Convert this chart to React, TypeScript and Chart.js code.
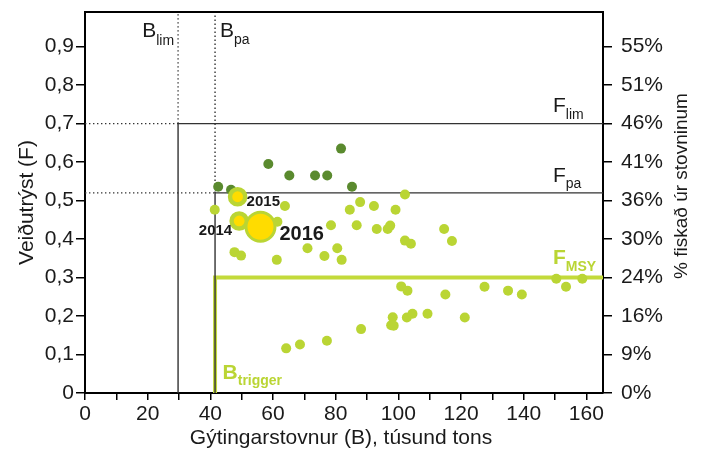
import React, { useEffect, useRef } from 'react';
import { Chart, registerables } from 'chart.js';

Chart.register(...registerables);

const FONT = '"Liberation Sans", Arial, Helvetica, sans-serif';

// Spawning stock biomass (B, thousand tonnes) and fishing mortality (F)
const darkB = [42.5, 46.6, 58.5, 65.2, 73.4, 77.3, 81.7, 85.2];
const darkF = [0.536, 0.528, 0.595, 0.565, 0.565, 0.565, 0.635, 0.536];

const lightB = [
  41.4, 63.8, 61.4, 78.5, 84.5, 87.8, 92.2, 99.1, 86.7, 93.1, 96.6, 97.4,
  47.7, 49.8, 61.2, 71.0, 76.4, 80.5, 81.9, 102.1, 102.1, 104.0, 114.6, 117.1,
  150.4, 153.5, 158.7, 100.9, 102.9, 115.0, 127.5, 135.0, 139.4,
  98.2, 97.7, 98.5, 102.7, 104.5, 109.3, 121.2, 64.2, 68.6, 77.2, 88.1,
];
const lightF = [
  0.476, 0.486, 0.445, 0.436, 0.476, 0.496, 0.486, 0.476, 0.436, 0.426, 0.426, 0.435,
  0.366, 0.357, 0.346, 0.376, 0.356, 0.376, 0.346, 0.516, 0.396, 0.388, 0.426, 0.395,
  0.297, 0.276, 0.297, 0.277, 0.266, 0.256, 0.276, 0.266, 0.256,
  0.197, 0.176, 0.175, 0.196, 0.206, 0.206, 0.196, 0.116, 0.126, 0.136, 0.166,
];

const yearLabels = ['2014', '2015', '2016'];
const yearB = [49.2, 48.7, 56.0];
const yearF = [0.447, 0.51, 0.432];

// Reference points
const Blim = 29.7;
const Bpa = 41.5;
const Btrigger = 41.5;
const Flim = 0.7;
const Fpa = 0.52;
const Fmsy = 0.3;

const xMin = 0;
const xMax = 165.3;
const yMin = 0;
const yMax = 0.99;

const xTickValues = [0, 10, 20, 30, 40, 50, 60, 70, 80, 90, 100, 110, 120, 130, 140, 150, 160];
const xTickLabels = ['0', '', '20', '', '40', '', '60', '', '80', '', '100', '', '120', '', '140', '', '160'];
const yTickValues = [0, 0.1, 0.2, 0.3, 0.4, 0.5, 0.6, 0.7, 0.8, 0.9];
const yTickLabels = ['0', '0,1', '0,2', '0,3', '0,4', '0,5', '0,6', '0,7', '0,8', '0,9'];
const pctLabels = ['0%', '9%', '16%', '24%', '30%', '36%', '41%', '46%', '51%', '55%'];

const xTitle = 'Gýtingarstovnur (B), túsund tons';
const yTitle = 'Veiðutrýst (F)';
const y2Title = '% fiskað úr stovninum';

const DARK = '#5a8a2e';
const LIME = '#bad534';
const LIME_LINE = '#c3da3a';
const YELLOW = '#ffdc00';
const INK = '#1a1a1a';

function zip(xs: number[], ys: number[]) {
  return xs.map((x, i) => ({ x, y: ys[i] }));
}

function noPad(s: any) {
  s.paddingTop = 0;
  s.paddingBottom = 0;
  s.paddingLeft = 0;
  s.paddingRight = 0;
}

const overlayPlugin = {
  id: 'overlay',
  afterDraw(chart: any) {
    const { ctx, chartArea, scales } = chart;
    const xs = scales.x;
    const ys = scales.y;
    const px = (v: number) => xs.getPixelForValue(v);
    const py = (v: number) => ys.getPixelForValue(v);
    ctx.save();
    // top frame
    ctx.strokeStyle = '#000';
    ctx.lineWidth = 2;
    ctx.beginPath();
    ctx.moveTo(chartArea.left - 1, chartArea.top);
    ctx.lineTo(chartArea.right + 1, chartArea.top);
    ctx.stroke();

    const sub = (main: string, subText: string, x: number, y: number, mainFont: string, subFont: string, color: string, subDy: number, align: 'left' | 'right' = 'left') => {
      ctx.fillStyle = color;
      ctx.textBaseline = 'alphabetic';
      ctx.textAlign = 'left';
      ctx.font = mainFont;
      const w1 = ctx.measureText(main).width;
      ctx.font = subFont;
      const w2 = ctx.measureText(subText).width;
      const x0 = align === 'left' ? x : x - w1 - w2;
      ctx.font = mainFont;
      ctx.fillText(main, x0, y);
      ctx.font = subFont;
      ctx.fillText(subText, x0 + w1, y + subDy);
    };

    // reference labels
    sub('B', 'lim', px(Blim) - 4, 37, `21px ${FONT}`, `14px ${FONT}`, INK, 8, 'right');
    sub('B', 'pa', px(Bpa) + 5, 37, `21px ${FONT}`, `14px ${FONT}`, INK, 7);
    sub('F', 'lim', chartArea.right - 50, py(Flim) - 12, `21px ${FONT}`, `14px ${FONT}`, INK, 7);
    sub('F', 'pa', chartArea.right - 50, py(Fpa) - 11, `21px ${FONT}`, `14px ${FONT}`, INK, 6);
    sub('F', 'MSY', chartArea.right - 50, py(Fmsy) - 14, `bold 21px ${FONT}`, `bold 14px ${FONT}`, LIME, 7);
    sub('B', 'trigger', px(Btrigger) + 7.5, py(0) - 14, `bold 21px ${FONT}`, `bold 14px ${FONT}`, LIME, 6);

    // year labels
    ctx.fillStyle = INK;
    ctx.textBaseline = 'alphabetic';
    ctx.font = `bold 15px ${FONT}`;
    ctx.textAlign = 'right';
    ctx.fillText(yearLabels[0], px(yearB[0]) - 7, py(yearF[0]) + 14);
    ctx.textAlign = 'left';
    ctx.fillText(yearLabels[1], px(yearB[1]) + 9, py(yearF[1]) + 9);
    ctx.font = `bold 20px ${FONT}`;
    ctx.fillText(yearLabels[2], px(yearB[2]) + 19, py(yearF[2]) + 13);

    // axis titles
    ctx.fillStyle = INK;
    ctx.textAlign = 'center';
    ctx.textBaseline = 'middle';
    ctx.font = `21px ${FONT}`;
    ctx.fillText(xTitle, (chartArea.left + chartArea.right) / 2 - 3, 438);
    ctx.save();
    ctx.translate(27, (chartArea.top + chartArea.bottom) / 2);
    ctx.rotate(-Math.PI / 2);
    ctx.fillText(yTitle, 0, 0);
    ctx.restore();
    ctx.save();
    ctx.translate(682, 186);
    ctx.rotate(-Math.PI / 2);
    ctx.font = `19px ${FONT}`;
    ctx.fillText(y2Title, 0, 0);
    ctx.restore();
    ctx.restore();
  },
};

export default function App() {
  const ref = useRef<HTMLCanvasElement | null>(null);

  useEffect(() => {
    if (!ref.current) return;
    const lineBase = { showLine: true, pointRadius: 0, pointHoverRadius: 0, fill: false, tension: 0 };
    const dotted = { ...lineBase, borderColor: '#333', borderWidth: 1.4, borderDash: [1.4, 2.6], order: 9 };
    const solid = { ...lineBase, borderColor: '#333', borderWidth: 1.4, order: 8 };

    const chart = new Chart(ref.current, {
      type: 'scatter',
      data: {
        datasets: [
          {
            ...lineBase,
            data: [{ x: Btrigger, y: 0 }, { x: Btrigger, y: Fmsy }, { x: xMax, y: Fmsy }],
            borderColor: LIME_LINE,
            borderWidth: 4,
            order: 10,
          } as any,
          { ...dotted, data: [{ x: Blim, y: Flim }, { x: Blim, y: yMax }] } as any,
          { ...dotted, data: [{ x: xMin, y: Flim }, { x: Blim, y: Flim }] } as any,
          { ...dotted, data: [{ x: Bpa, y: Fpa }, { x: Bpa, y: yMax }] } as any,
          { ...dotted, data: [{ x: xMin, y: Fpa }, { x: Bpa, y: Fpa }] } as any,
          { ...solid, data: [{ x: Blim, y: 0 }, { x: Blim, y: Flim }, { x: xMax, y: Flim }] } as any,
          { ...solid, data: [{ x: Bpa, y: 0 }, { x: Bpa, y: Fpa }, { x: xMax, y: Fpa }] } as any,
          {
            data: zip(darkB, darkF),
            pointRadius: 5,
            pointBackgroundColor: DARK,
            pointBorderWidth: 0,
            order: 5,
          } as any,
          {
            data: zip(lightB, lightF),
            pointRadius: 5,
            pointBackgroundColor: LIME,
            pointBorderWidth: 0,
            order: 4,
          } as any,
          {
            data: zip(yearB, yearF),
            pointRadius: [7.6, 7.6, 14.5],
            pointBorderWidth: [4.4, 4.4, 3],
            pointBackgroundColor: YELLOW,
            pointBorderColor: LIME,
            order: 1,
          } as any,
        ],
      },
      options: {
        animation: false,
        responsive: true,
        maintainAspectRatio: false,
        layout: { autoPadding: false, padding: { top: 12, left: 0, right: 0, bottom: 0 } },
        plugins: { legend: { display: false }, tooltip: { enabled: false } },
        scales: {
          x: {
            type: 'linear',
            position: 'bottom',
            min: xMin,
            max: xMax,
            afterBuildTicks: (s: any) => {
              s.ticks = xTickValues.map((v) => ({ value: v }));
            },
            afterFit: (s: any) => {
              s.height = 57;
              noPad(s);
            },
            ticks: {
              callback: (_v: any, i: number) => xTickLabels[i],
              font: { family: FONT, size: 21 },
              color: INK,
              padding: 2,
              maxRotation: 0,
              autoSkip: false,
            },
            grid: { drawOnChartArea: false, drawTicks: true, tickLength: 7, color: '#000', lineWidth: 1.5 },
            border: { color: '#000', width: 2 },
          },
          y: {
            type: 'linear',
            position: 'left',
            min: yMin,
            max: yMax,
            afterBuildTicks: (s: any) => {
              s.ticks = yTickValues.map((v) => ({ value: v }));
            },
            afterFit: (s: any) => {
              s.width = 85;
              noPad(s);
            },
            ticks: {
              callback: (_v: any, i: number) => yTickLabels[i],
              font: { family: FONT, size: 21 },
              color: INK,
              padding: 2,
              autoSkip: false,
            },
            grid: { drawOnChartArea: false, drawTicks: true, tickLength: 9, color: '#000', lineWidth: 1.5 },
            border: { color: '#000', width: 2 },
          },
          y2: {
            type: 'linear',
            position: 'right',
            min: yMin,
            max: yMax,
            afterBuildTicks: (s: any) => {
              s.ticks = yTickValues.map((v) => ({ value: v }));
            },
            afterFit: (s: any) => {
              s.width = 99;
              noPad(s);
            },
            ticks: {
              callback: (_v: any, i: number) => pctLabels[i],
              font: { family: FONT, size: 21 },
              color: INK,
              padding: 9,
              autoSkip: false,
            },
            grid: { drawOnChartArea: false, drawTicks: true, tickLength: 9, color: '#000', lineWidth: 1.5 },
            border: { color: '#000', width: 2 },
          },
        },
      } as any,
      plugins: [overlayPlugin],
    });
    return () => chart.destroy();
  }, []);

  return (
    <div style={{ position: 'absolute', left: 0, top: 0, width: 702, height: 450, background: '#fff' }}>
      <canvas ref={ref} />
    </div>
  );
}
